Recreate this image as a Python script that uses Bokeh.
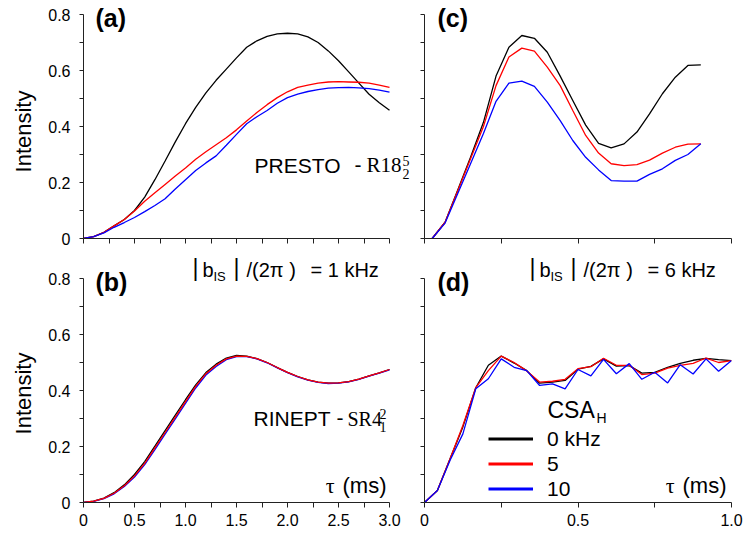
import math
from bokeh.plotting import figure
from bokeh.layouts import column, row
from bokeh.models import Label, Legend, LegendItem, FixedTicker, Range1d, PrintfTickFormatter
from bokeh.embed import file_html
from bokeh.resources import INLINE

# ---------------- data ----------------
tau_ab = [0.0, 0.1, 0.2, 0.3, 0.4, 0.5, 0.6, 0.7, 0.8, 0.9, 1.0, 1.1, 1.2, 1.3, 1.4, 1.5,
          1.6, 1.7, 1.8, 1.9, 2.0, 2.1, 2.2, 2.3, 2.4, 2.5, 2.6, 2.7, 2.8, 2.9, 3.0]
a_csa0 = [0, 0.007, 0.022, 0.045, 0.068, 0.1, 0.148, 0.21, 0.277, 0.345, 0.41, 0.468, 0.52,
          0.565, 0.605, 0.645, 0.683, 0.706, 0.722, 0.731, 0.733, 0.731, 0.72, 0.70, 0.67,
          0.635, 0.595, 0.555, 0.515, 0.485, 0.458]
a_csa5 = [0, 0.007, 0.022, 0.045, 0.068, 0.098, 0.133, 0.163, 0.193, 0.223, 0.252, 0.283, 0.31,
          0.335, 0.36, 0.388, 0.42, 0.45, 0.478, 0.503, 0.524, 0.54, 0.548, 0.555, 0.559,
          0.56, 0.559, 0.558, 0.555, 0.548, 0.54]
a_csa10 = [0, 0.007, 0.02, 0.04, 0.057, 0.075, 0.096, 0.118, 0.142, 0.177, 0.21, 0.243, 0.27,
           0.295, 0.333, 0.372, 0.41, 0.435, 0.457, 0.483, 0.503, 0.516, 0.525, 0.532, 0.537,
           0.539, 0.54, 0.538, 0.535, 0.53, 0.523]

b_csa0 = [0, 0.005, 0.016, 0.035, 0.063, 0.1, 0.146, 0.201, 0.257, 0.312, 0.367, 0.42, 0.464,
          0.494, 0.516, 0.525, 0.523, 0.514, 0.5, 0.482, 0.465, 0.45, 0.438, 0.43, 0.426,
          0.427, 0.432, 0.441, 0.452, 0.463, 0.475]
b_csa5 = [0, 0.005, 0.015, 0.033, 0.06, 0.095, 0.14, 0.195, 0.25, 0.305, 0.36, 0.415, 0.46,
          0.49, 0.513, 0.523, 0.522, 0.514, 0.5, 0.482, 0.465, 0.45, 0.438, 0.43, 0.426,
          0.427, 0.432, 0.441, 0.452, 0.463, 0.475]
b_csa10 = [0, 0.004, 0.014, 0.031, 0.057, 0.091, 0.135, 0.189, 0.244, 0.299, 0.354, 0.409,
           0.455, 0.486, 0.51, 0.521, 0.521, 0.513, 0.499, 0.481, 0.464, 0.449, 0.437, 0.429,
           0.425, 0.426, 0.431, 0.44, 0.451, 0.462, 0.474]

tau_c = [0.025, 0.067, 0.108, 0.150, 0.192, 0.233, 0.275, 0.317, 0.358, 0.400, 0.442,
         0.483, 0.525, 0.567, 0.608, 0.650, 0.692, 0.733, 0.775, 0.817, 0.858, 0.900]
c_csa0 = [0, 0.058, 0.172, 0.29, 0.415, 0.58, 0.683, 0.725, 0.715, 0.665, 0.58, 0.493,
          0.405, 0.34, 0.324, 0.338, 0.38, 0.445, 0.517, 0.576, 0.618, 0.62]
c_csa5 = [0, 0.058, 0.17, 0.285, 0.40, 0.546, 0.648, 0.68, 0.669, 0.612, 0.546, 0.457,
          0.368, 0.305, 0.267, 0.26, 0.264, 0.28, 0.305, 0.326, 0.337, 0.338]
c_csa10 = [0, 0.055, 0.16, 0.267, 0.375, 0.49, 0.555, 0.562, 0.543, 0.487, 0.421, 0.35,
           0.29, 0.245, 0.207, 0.205, 0.205, 0.229, 0.249, 0.279, 0.30, 0.338]

tau_d = [0.0, 0.042, 0.083, 0.125, 0.167, 0.208, 0.25, 0.292, 0.333, 0.375, 0.417, 0.458,
         0.5, 0.542, 0.583, 0.625, 0.667, 0.708, 0.75, 0.792, 0.833, 0.875, 0.917, 0.958, 1.0]
d_csa0 = [0, 0.043, 0.155, 0.27, 0.41, 0.49, 0.523, 0.498, 0.471, 0.426, 0.43, 0.436, 0.476,
          0.486, 0.513, 0.487, 0.489, 0.462, 0.465, 0.483, 0.497, 0.508, 0.515, 0.51, 0.507]
d_csa5 = [0, 0.043, 0.155, 0.275, 0.41, 0.471, 0.523, 0.5, 0.47, 0.43, 0.433, 0.44, 0.478,
          0.485, 0.515, 0.49, 0.49, 0.457, 0.462, 0.48, 0.49, 0.497, 0.516, 0.5, 0.507]
d_csa10 = [0, 0.043, 0.15, 0.245, 0.406, 0.442, 0.513, 0.483, 0.471, 0.418, 0.424, 0.406,
           0.475, 0.452, 0.511, 0.46, 0.496, 0.44, 0.465, 0.427, 0.492, 0.459, 0.513, 0.469, 0.507]

csa_labels = ["0 kHz", "5", "10"]
colors = ["#000000", "#ff0000", "#0000ff"]
y_ticks = [0, 0.2, 0.4, 0.6, 0.8]
y_minor = [0.1, 0.3, 0.5, 0.7]
y_all = [0, 0.1, 0.2, 0.3, 0.4, 0.5, 0.6, 0.7, 0.8]
x_ticks_left = [0, 0.5, 1.0, 1.5, 2.0, 2.5, 3.0]
x_minor_left = [0.25, 0.75, 1.25, 1.75, 2.25, 2.75]
x_all_left = [0, 0.25, 0.5, 0.75, 1.0, 1.25, 1.5, 1.75, 2.0, 2.25, 2.5, 2.75, 3.0]
x_ticks_right = [0, 0.5, 1.0]
x_minor_right = [0.25, 0.75]
x_all_right = [0, 0.25, 0.5, 0.75, 1.0]

SANS = "Liberation Sans"
SERIF = "Liberation Serif"
AX = "#222222"

# page geometry (pixels)
LABW = 40                    # narrow column holding the "Intensity" labels
LFX, RFX = 83, 424           # x=0 of left / right panels
TFY, BFY = 238, 502          # y=0 of top / bottom panels
TOPB = 10                    # border under the top panels
LSX, RSX = 102.0, 307.0      # px per unit x
SY = 280.0                   # px per unit y
BASE = 0.43                  # baseline correction (fraction of font size)


def make_fig(left_fig, top_fig):
    if left_fig:
        fw, xr, mbl, mbr = 335, Range1d(0, 3.0 + 29 / LSX), LFX - LABW, 0
    else:
        fw, xr, mbl, mbr = 307, Range1d(0, 1.0), 6, 14
    if top_fig:
        fh, yr, mbb = TFY, Range1d(0, 0.8 + 14 / SY), TOPB
    else:
        top = TFY + TOPB
        fh, yr, mbb = BFY - top, Range1d(0, 0.8 + (BFY - 224 - top) / SY), 535 - BFY
    p = figure(frame_width=fw, frame_height=fh, x_range=xr, y_range=yr,
               output_backend="svg", toolbar_location=None,
               min_border_left=mbl, min_border_right=mbr,
               min_border_top=0, min_border_bottom=mbb)
    p.outline_line_color = None
    p.grid.visible = False
    xa, ya = p.xaxis[0], p.yaxis[0]
    for ax in (xa, ya):
        ax.axis_line_color = AX
        ax.axis_line_width = 1
        ax.major_tick_line_color = AX
        ax.minor_tick_line_color = AX
        ax.major_tick_in = 0
        ax.minor_tick_in = 0
        ax.major_label_text_font = SANS
        ax.major_label_text_font_size = "16px"
        ax.major_label_text_color = "black"
        ax.formatter = PrintfTickFormatter(format="%.1f")
        ax.major_label_overrides = {0: "0"}
    xa.bounds = (0, 3.0) if left_fig else (0, 1.0)
    ya.bounds = (0, 0.8)
    xa.major_tick_out = 5
    xa.minor_tick_out = 5
    ya.major_tick_out = 4
    ya.minor_tick_out = 4
    xa.major_label_standoff = 6
    ya.major_label_standoff = 9
    if top_fig:
        xa.ticker = FixedTicker(ticks=[], minor_ticks=x_all_left if left_fig else x_all_right)
        xa.major_label_standoff = 0
    elif left_fig:
        xa.ticker = FixedTicker(ticks=x_ticks_left, minor_ticks=x_minor_left)
    else:
        xa.ticker = FixedTicker(ticks=x_ticks_right, minor_ticks=x_minor_right)
    if left_fig:
        ya.ticker = FixedTicker(ticks=y_ticks, minor_ticks=y_minor)
    else:
        ya.ticker = FixedTicker(ticks=[], minor_ticks=y_all)
        ya.major_label_standoff = 0
    return p


def put(p, geom, px, py, text, size, font=SANS, style="normal", align="left"):
    fx0, fy0, sx = geom
    x = (px - fx0) / sx
    y = (fy0 - (py - BASE * size)) / SY
    p.add_layout(Label(x=x, y=y, text=text, text_font=font, text_font_size=f"{size}px",
                       text_font_style=style, text_align=align, text_baseline="alphabetic",
                       text_color="black"))


# narrow label column ("Intensity")
plab = figure(width=LABW, height=535, x_range=Range1d(0, LABW), y_range=Range1d(535, 0),
              x_axis_type=None, y_axis_type=None, output_backend="svg",
              toolbar_location=None, min_border=0)
plab.outline_line_color = None
plab.grid.visible = False
for cy in (131, 393):
    plab.add_layout(Label(x=23, y=cy, text="Intensity", angle=math.pi / 2,
                          text_font=SANS, text_font_size="22px", text_align="center",
                          text_baseline="middle", text_color="black"))

pa = make_fig(True, True)
pc = make_fig(False, True)
pb = make_fig(True, False)
pd_ = make_fig(False, False)

ga = (LFX, TFY, LSX)
gc = (RFX, TFY, RSX)
gb = (LFX, BFY, LSX)
gd = (RFX, BFY, RSX)

for ys, c in zip([a_csa0, a_csa5, a_csa10], colors):
    pa.line(tau_ab, ys, line_color=c, line_width=1.3)
for ys, c in zip([b_csa0, b_csa10, b_csa5], [colors[0], colors[2], colors[1]]):
    pb.line(tau_ab, ys, line_color=c, line_width=1.3)
for ys, c in zip([c_csa0, c_csa5, c_csa10], colors):
    pc.line(tau_c, ys, line_color=c, line_width=1.3)
for ys, c in zip([d_csa0, d_csa5, d_csa10], colors):
    pd_.line(tau_d, ys, line_color=c, line_width=1.3)

# legend: thicker sample lines (drawn on an out-of-view range, used only for the key)
pd_.extra_y_ranges = {"key": Range1d(50, 51)}
leg_r = [pd_.line(tau_d, ys, line_color=c, line_width=3, y_range_name="key")
         for ys, c in zip([d_csa0, d_csa5, d_csa10], colors)]
legend = Legend(items=[LegendItem(label=l, renderers=[r]) for l, r in zip(csa_labels, leg_r)],
                location=(64, 1), orientation="vertical", glyph_width=45, glyph_height=25,
                label_height=25, label_standoff=14, spacing=0, padding=0, margin=0,
                border_line_color=None, background_fill_alpha=0,
                label_text_font=SANS, label_text_font_size="21px", label_text_color="black")
pd_.add_layout(legend)
put(pd_, gd, 547, 419, "CSA", 23)
put(pd_, gd, 596, 424, "H", 14)

# panel letters
put(pa, ga, 95, 28, "(a)", 25, style="bold")
put(pc, gc, 437, 28, "(c)", 25, style="bold")
put(pb, gb, 95, 292, "(b)", 25, style="bold")
put(pd_, gd, 437, 292, "(d)", 25, style="bold")

# sequence names
put(pa, ga, 254, 174, "PRESTO", 21)
put(pa, ga, 354, 174, "-", 21)
put(pa, ga, 366, 174, "R18", 21, font=SERIF)
put(pa, ga, 402, 167, "5", 14, font=SERIF)
put(pa, ga, 402, 180, "2", 14, font=SERIF)

put(pb, gb, 253, 427, "RINEPT", 21)
put(pb, gb, 336, 427, "-", 21)
put(pb, gb, 347, 427, "SR4", 20, font=SERIF)
put(pb, gb, 379, 420, "2", 14, font=SERIF)
put(pb, gb, 379, 433, "1", 14, font=SERIF)

# coupling labels
for p, g, x0 in [(pb, gb, 192), (pd_, gd, 529)]:
    put(p, g, x0, 277, "|", 23)
    put(p, g, x0 + 10, 278, "b", 20)
    put(p, g, x0 + 21, 282, "IS", 13)
    put(p, g, x0 + 41, 277, "|", 23)
    put(p, g, x0 + 54, 278, "/(2\u03c0 )", 20)
put(pb, gb, 310, 278, "= 1 kHz", 20)
put(pd_, gd, 647, 278, "= 6 kHz", 20)

# tau labels
put(pb, gb, 334, 494, "\u03c4", 22, font=SERIF, align="right")
put(pb, gb, 386, 494, "(ms)", 22, align="right")
put(pd_, gd, 674, 494, "\u03c4", 22, font=SERIF, align="right")
put(pd_, gd, 726, 494, "(ms)", 22, align="right")

layout = row(plab, column(row(pa, pc), row(pb, pd_)))
open("out.html", "w").write(file_html(layout, INLINE))
